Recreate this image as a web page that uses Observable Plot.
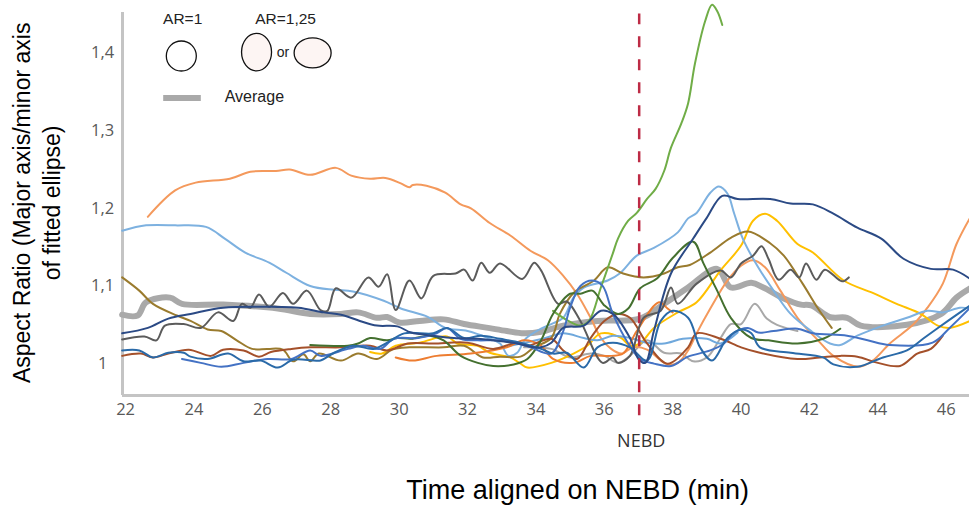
<!DOCTYPE html>
<html><head><meta charset="utf-8">
<script src="https://cdn.jsdelivr.net/npm/d3@7"></script>
<script src="https://cdn.jsdelivr.net/npm/@observablehq/plot@0.6"></script>
<style>html,body{margin:0;padding:0;background:#fff;overflow:hidden}svg{display:block}</style>
</head><body><div id="chart"></div>
<script>
const average=[[21.9,1.063],[22.35,1.062],[22.6,1.079],[23.3,1.085],[23.65,1.077],[24.85,1.076],[26.45,1.071],[27.4,1.064],[28.3,1.064],[28.8,1.066],[29.35,1.059],[29.65,1.06],[30,1.053],[30.6,1.055],[31.3,1.057],[31.9,1.051],[32.6,1.046],[33.15,1.042],[33.65,1.039],[34.15,1.041],[34.8,1.049],[35.8,1.055],[37.05,1.058],[37.75,1.077],[38.45,1.098],[39.3,1.122],[39.7,1.098],[40.3,1.104],[40.65,1.098],[41.25,1.084],[41.75,1.076],[42.05,1.075],[42.6,1.06],[43.1,1.059],[43.5,1.049],[44.85,1.05],[45.85,1.064],[46.3,1.085],[46.7,1.097]];
const lightOrange=[[22.65,1.189],[23.45,1.223],[24.05,1.233],[25.05,1.238],[25.65,1.247],[26.4,1.248],[26.8,1.25],[27.4,1.243],[28.15,1.252],[28.6,1.242],[29.15,1.238],[29.6,1.239],[30.05,1.232],[30.3,1.227],[30.4,1.23],[30.8,1.229],[31.35,1.22],[31.8,1.205],[32.1,1.2],[32.65,1.181],[33.25,1.165],[33.85,1.145],[34.35,1.133],[34.8,1.113],[35.2,1.09],[35.6,1.059],[35.9,1.033],[36.2,1.019],[36.5,1.013],[36.85,1.021],[37.25,1.018],[37.6,1.006],[37.85,0.999],[38.15,1.001],[38.45,1.017],[38.7,1.039],[39.1,1.071],[39.6,1.107],[40,1.126],[40.35,1.133],[40.7,1.124],[41.15,1.094],[41.65,1.059],[42.25,1.03],[42.7,1.01],[43.45,0.996],[43.85,1.004],[44.35,1.026],[45.05,1.051],[45.45,1.072],[45.9,1.103],[46.3,1.154],[46.7,1.188]];
const deepOrange=[[29.9,1.008],[30.4,1.004],[31.1,1.01],[32.1,1.013],[33.15,1.021],[33.65,1.03],[34.15,1.023],[34.5,1.006],[35.1,1.001],[35.6,1.01],[36.2,1.01],[36.55,1.013],[36.95,1.042],[37.6,1.079],[37.85,1.071],[38,1.066]];
const skyBlue=[[21.9,1.171],[22.6,1.178],[23.45,1.178],[24.35,1.176],[24.9,1.161],[25.5,1.143],[26.2,1.13],[26.7,1.117],[27.4,1.1],[28.1,1.095],[28.65,1.093],[29.55,1.081],[30.05,1.071],[30.85,1.06],[31.35,1.046],[32,1.042],[32.6,1.033],[32.95,1.026],[33.2,1.01],[33.45,1.014],[33.7,1.032],[34.15,1.045],[34.45,1.051],[34.8,1.059],[35.1,1.085],[35.4,1.098],[36.1,1.107],[36.45,1.116],[36.95,1.139],[37.45,1.149],[38.15,1.169],[38.45,1.187],[38.7,1.194],[39.1,1.22],[39.35,1.228],[39.6,1.219],[39.8,1.193],[40.05,1.161],[40.5,1.124],[40.95,1.094],[41.45,1.064],[42.05,1.042],[42.6,1.026],[42.9,1.024],[43.4,1.036],[44.15,1.049],[44.85,1.059],[45.45,1.068],[45.9,1.066],[46.4,1.072],[46.7,1.071]];
const skyBlue2=[[33.25,1.023],[34.2,1.032],[34.8,1.039],[35.4,1.033],[35.8,1.03],[36.25,1.036],[36.75,1.033],[37.25,1.027],[37.75,1.026],[38.3,1.032],[39,1.032],[39.4,1.026],[39.9,1.04]];
const lightGreen=[[34.5,1.068],[34.95,1.055],[35.3,1.049],[35.55,1.055],[35.9,1.098],[36.25,1.142],[36.4,1.161],[36.7,1.184],[36.95,1.194],[37.25,1.212],[37.5,1.225],[37.75,1.248],[37.95,1.278],[38.25,1.309],[38.45,1.335],[38.65,1.386],[38.95,1.441],[39.15,1.462],[39.3,1.454],[39.45,1.436]];
const navy=[[21.9,1.039],[22.65,1.046],[23.25,1.058],[23.9,1.064],[24.85,1.072],[26.45,1.073],[27.05,1.072],[27.8,1.066],[28.3,1.063],[28.85,1.055],[29.35,1.049],[29.95,1.048],[30.35,1.04],[31,1.036],[31.6,1.033],[32.3,1.032],[32.75,1.03],[33.45,1.026],[33.95,1.021],[34.15,1.021],[34.45,1.027],[34.8,1.046],[35.4,1.049],[35.9,1.068],[36.25,1.064],[36.75,1.033],[37,1.006],[37.2,1.001],[37.45,1.042],[37.95,1.116],[38.6,1.161],[39,1.188],[39.45,1.216],[39.9,1.212],[40.85,1.212],[41.45,1.206],[42.1,1.205],[42.7,1.193],[43.4,1.175],[44.1,1.161],[44.75,1.135],[45.55,1.122],[46.2,1.121],[46.7,1.109]];
const darkGray=[[21.9,1.031],[22.55,1.035],[22.9,1.03],[23.15,1.049],[23.7,1.051],[24.2,1.046],[24.7,1.066],[25.15,1.055],[25.4,1.077],[25.65,1.072],[25.9,1.089],[26.2,1.073],[26.6,1.091],[26.9,1.077],[27.3,1.094],[27.7,1.069],[27.9,1.068],[28.15,1.097],[28.6,1.085],[29.1,1.111],[29.4,1.099],[29.65,1.115],[29.9,1.069],[30.3,1.107],[30.65,1.084],[31,1.113],[31.65,1.116],[31.9,1.121],[32.15,1.107],[32.4,1.13],[32.65,1.117],[32.95,1.129],[33.6,1.109],[33.95,1.13],[34.15,1.12],[34.65,1.077],[34.9,1.08],[35.3,1.055],[35.95,1.001],[36.25,1.008],[36.4,1.001],[36.75,1.01],[37.15,1.059],[37.65,1.068],[37.95,1.098],[38.15,1.077],[38.7,1.103],[39.4,1.12],[39.7,1.111],[40,1.129],[40.35,1.139],[40.6,1.151],[40.8,1.135],[41.1,1.108],[41.45,1.121],[41.7,1.111],[41.9,1.129],[42.2,1.108],[42.45,1.121],[42.95,1.106],[43.15,1.111]];
const gold=[[21.9,1.111],[22.4,1.094],[22.8,1.077],[23.5,1.062],[23.9,1.055],[24.4,1.044],[24.8,1.042],[25.25,1.03],[25.7,1.019],[26.15,1.019],[26.6,1.018],[26.9,1.003],[27.2,1.012],[27.4,1.003],[27.65,1.013],[28.3,1.004],[28.8,1.013],[29.35,1.006],[29.8,1.018],[30.3,1.021],[31.3,1.021],[31.9,1.023],[32.45,1.008],[32.95,1.009],[33.55,1.009],[33.95,1.021],[34.45,1.033],[34.7,1.064],[35.1,1.091],[35.7,1.107],[36.1,1.124],[36.55,1.116],[37.15,1.111],[37.75,1.116],[38.15,1.124],[38.5,1.127],[39.1,1.143],[39.7,1.162],[40.2,1.17],[40.85,1.155],[41.25,1.139],[41.8,1.103],[42.25,1.071],[42.65,1.046]];
const yellow=[[29.15,1.015],[29.5,1.013],[29.9,1.023],[30.6,1.027],[31.4,1.035],[31.7,1.026],[32.3,1.023],[32.65,1.014],[33.25,1.008],[33.55,1],[33.75,0.995],[34.45,1.001],[35.1,1.013],[35.5,1.023],[35.9,1.039],[36.5,1.033],[36.75,1.023],[37.05,1.026],[37.45,1.046],[38.15,1.066],[38.7,1.079],[39.4,1.12],[40,1.152],[40.35,1.184],[40.7,1.193],[41.05,1.184],[41.65,1.154],[42.1,1.143],[43,1.107],[43.85,1.091],[44.55,1.077],[45.25,1.064],[45.75,1.049],[46.1,1.046],[46.7,1.055]];
const darkGreen=[[27.4,1.024],[28.5,1.023],[28.8,1.026],[29.15,1.033],[29.65,1.03],[29.95,1.033],[30.35,1.032],[30.9,1.036],[31.3,1.03],[31.8,1.01],[32.3,1.001],[32.75,0.997],[33.35,0.999],[33.75,1.006],[34.15,1.03],[34.5,1.064],[35,1.09],[35.3,1.09],[35.65,1.094],[36,1.075],[36.4,1.064],[36.7,1.071],[37.05,1.097],[37.55,1.11],[38,1.136],[38.6,1.157],[38.9,1.129],[39.3,1.094],[39.7,1.059],[40.3,1.033],[40.8,1.03],[41.65,1.026],[42.4,1.032],[42.9,1.045]];
const rust=[[21.9,1.01],[22.45,1.013],[22.8,1.008],[23.25,1.013],[23.85,1.018],[24.5,1.01],[24.85,1.018],[25.45,1.017],[25.9,1.009],[26.25,1.015],[26.85,1.019],[27.4,1.021],[28.3,1.021],[29.15,1.023],[29.65,1.017],[30.25,1.026],[31,1.026],[32,1.027],[32.75,1.019],[33.45,1.027],[33.75,1.023],[34.45,1.032],[34.8,1.017],[35.2,1.006],[35.6,1.033],[36,1.055],[36.4,1.064],[36.75,1.059],[37.25,1.026],[37.85,1],[38.45,1.021],[38.7,1.039],[39.4,1.032],[40,1.021],[40.55,1.014],[41.65,1.006],[42.3,1.008],[42.9,1.01],[43.4,1.009],[44,1.001],[44.65,0.997],[45.15,1.013],[45.55,1.019],[45.9,1.036]];
const steelBlue=[[21.9,1.017],[22.4,1.017],[22.8,1.008],[23.25,1.014],[23.7,1.014],[23.9,1.009],[24.4,1.006],[25,1.013],[25.45,1.003],[25.95,1.004],[26.45,0.995],[26.9,1.005],[27.5,1.004],[27.7,1.004],[28.1,1.014],[28.65,1.023],[29.25,1.019],[29.65,1.027],[30.15,1.039],[31,1.039],[31.4,1.046],[31.9,1.033],[32.4,1.036],[32.95,1.032],[33.55,1.027],[34.15,1.019],[34.5,1.013],[34.9,1.014],[35.4,0.995],[35.8,1.021],[36.25,1.027],[36.75,1.021],[37.25,1.004],[37.65,1.055],[38,1.068],[38.45,1.059],[38.8,1.021],[39.15,1.004],[39.6,1.033],[40,1.044],[40.3,1.039],[40.55,1.021],[41.45,1.014],[42.4,1.008],[42.7,0.999],[43.4,0.996],[44.15,1.008],[44.85,1.017],[45.35,1.033],[46.05,1.055],[46.7,1.075]];
const royalBlue=[[23.65,1.006],[24.2,1.001],[24.8,0.996],[25.45,1.001],[26.15,1.006],[26.85,1.006],[27.4,1.017],[27.7,1.01],[28.5,1.019],[28.95,1.023],[29.45,1.019],[29.85,1.032],[30.55,1.033],[31.1,1.039],[31.4,1.046],[31.8,1.032],[32.3,1.03],[32.9,1.03],[33.45,1.026],[33.85,1.021],[34.45,1.013],[34.8,1.042],[35,1.072],[35.3,1.1],[35.65,1.107],[35.95,1.1],[36.25,1.064],[36.7,1.026],[37.05,1.006],[37.45,1],[37.95,0.997],[38.45,1.009],[39.1,1.017],[39.5,1.026],[39.8,1.04],[40.2,1.046],[40.5,1.04],[40.95,1.042],[41.65,1.045],[42.1,1.039],[43.1,1.036],[43.7,1.03],[44.35,1.024],[45.6,1.027],[46.1,1.046],[46.7,1.072]];
const lightGray=[[33.65,1.021],[34.45,1.019],[35,1.008],[35.6,1.013],[36,1.01],[36.4,1.001],[36.75,1.01],[37.25,1.03],[37.75,1.014],[38.25,1.013],[38.6,1.003],[39,1.008],[39.4,1.033],[39.7,1.051],[40,1.051],[40.4,1.077],[40.75,1.058],[41.05,1.05],[41.65,1.042]];

const seriesTable=[
  [average,"#a9a9a9",6],[lightGray,"#a8a8a8",2],[lightOrange,"#f4995c",2],[yellow,"#ffc000",2],[skyBlue2,"#6fa8dc",2],
  [skyBlue,"#7db1e0",2],[gold,"#9a7b2e",2],[deepOrange,"#ed7d31",2],[rust,"#a4502a",2],[darkGray,"#5b5b5b",2],
  [lightGreen,"#70ad47",2],[darkGreen,"#44702f",2],[royalBlue,"#4472c4",2],[steelBlue,"#2a6aa8",2],[navy,"#2b4a85",2]
];
const yTicks=[1,1.1,1.2,1.3,1.4];
const xTicks=d3.range(22,47,2);
const comma=d=>String(d).replace(".",",");
const K=0.5523;
const ellipse=(rx,ry)=>({draw(c){
  c.moveTo(rx,0);
  c.bezierCurveTo(rx,K*ry,K*rx,ry,0,ry);
  c.bezierCurveTo(-K*rx,ry,-rx,K*ry,-rx,0);
  c.bezierCurveTo(-rx,-K*ry,-K*rx,-ry,0,-ry);
  c.bezierCurveTo(K*rx,-ry,rx,-K*ry,rx,0);
  c.closePath();
}});
const sans="Liberation Sans, Arial, sans-serif";
const tick='"Open Sans", sans-serif';

const lineMarks=seriesTable.map(([d,c,w])=>Plot.line(d,{x:p=>p[0],y:p=>p[1],stroke:c,strokeWidth:w,curve:"catmull-rom",strokeLinejoin:"round",strokeLinecap:"round"}));

const chart=Plot.plot({
  width:969,height:508,marginLeft:122,marginRight:0,marginTop:12,marginBottom:113,
  style:{background:"#fff",overflow:"visible"},
  x:{domain:[21.91,46.68],axis:null},
  y:{domain:[0.959,1.452],axis:null},
  marks:[
    Plot.ruleX([21.91],{y1:0.959,y2:1.452,stroke:"#c4c4c4",strokeWidth:3}),
    Plot.ruleY([0.959],{stroke:"#c4c4c4",strokeWidth:3}),
    Plot.axisX({ticks:xTicks,anchor:"bottom",tickSize:0,tickPadding:8,fontSize:16.5,label:null,color:"#595959",fontFamily:tick,tickFormat:d=>d}),
    Plot.text(yTicks,{x:21.33,y:d=>d,text:comma,fontSize:16.5,fill:"#595959",fontFamily:tick,textAnchor:"middle"}),
    ...lineMarks,
    Plot.ruleX([37.02],{y1:0.933,y2:1.45,stroke:"#bd2b45",strokeWidth:2.5,strokeDasharray:"11 12"}),
    Plot.text(["NEBD"],{x:37.08,y:0.9,text:d=>d,fontSize:18,fill:"#333",fontFamily:tick,letterSpacing:"0.4px"}),
    Plot.text(["Time aligned on NEBD (min)"],{x:35.22,y:0.837,text:d=>d,fontSize:27,fill:"#000",fontFamily:sans}),
    Plot.text(["Aspect Ratio (Major axis/minor axis"],{x:18.99,y:1.207,text:d=>d,rotate:-90,fontSize:23,fill:"#000",fontFamily:sans,letterSpacing:"-0.4px"}),
    Plot.text(["of fitted ellipse)"],{x:19.87,y:1.207,text:d=>d,rotate:-90,fontSize:23,fill:"#000",fontFamily:sans,letterSpacing:"-0.4px"}),
    Plot.text(["AR=1"],{x:23.67,y:1.443,text:d=>d,fontSize:15.5,fill:"#222",fontFamily:sans}),
    Plot.text(["AR=1,25"],{x:26.68,y:1.443,text:d=>d,fontSize:15.5,fill:"#222",fontFamily:sans}),
    Plot.text(["or"],{x:26.6,y:1.4,text:d=>d,fontSize:14,fill:"#222",fontFamily:sans}),
    Plot.text(["Average"],{x:24.9,y:1.344,text:d=>d,textAnchor:"start",fontSize:16,fill:"#222",fontFamily:sans}),
    Plot.dot([[23.63,1.396]],{x:d=>d[0],y:d=>d[1],symbol:ellipse(15,15),r:10,stroke:"#111",strokeWidth:1.3,fill:"#fff"}),
    Plot.dot([[25.83,1.401]],{x:d=>d[0],y:d=>d[1],symbol:ellipse(15,18.7),r:10,stroke:"#111",strokeWidth:1.3,fill:"#fdf5f3"}),
    Plot.dot([[27.47,1.4]],{x:d=>d[0],y:d=>d[1],symbol:ellipse(18.5,15),r:10,stroke:"#111",strokeWidth:1.3,fill:"#fdf5f3"}),
    Plot.line([[23.1,1.342],[24.2,1.342]],{x:d=>d[0],y:d=>d[1],stroke:"#a9a9a9",strokeWidth:6,strokeLinecap:"butt"})
  ]
});
document.getElementById("chart").append(chart);
</script></body></html>
